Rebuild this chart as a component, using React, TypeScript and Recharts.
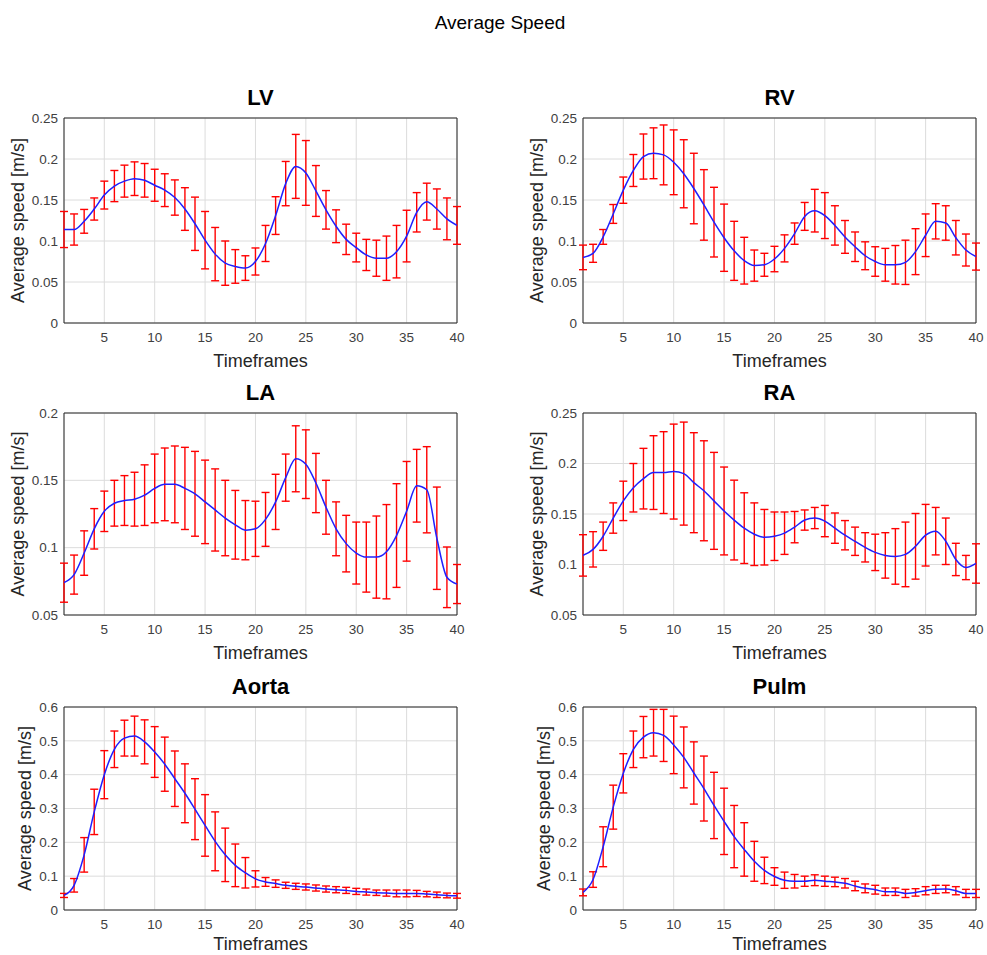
import { CartesianGrid, ErrorBar, Line, LineChart, ReferenceArea, XAxis, YAxis } from 'recharts';

const TIMEFRAMES = [
  1, 2, 3, 4, 5, 6, 7, 8, 9, 10, 11, 12, 13, 14, 15, 16, 17, 18, 19, 20,
  21, 22, 23, 24, 25, 26, 27, 28, 29, 30, 31, 32, 33, 34, 35, 36, 37, 38, 39, 40,
];
const X_TICKS = [5, 10, 15, 20, 25, 30, 35, 40];

const LV_MEAN = [0.114, 0.114, 0.124, 0.139, 0.156, 0.167, 0.173, 0.176, 0.174, 0.168, 0.162, 0.153, 0.139, 0.121, 0.101, 0.084, 0.073, 0.069, 0.067, 0.075, 0.097, 0.131, 0.17, 0.191, 0.183, 0.161, 0.138, 0.118, 0.102, 0.092, 0.083, 0.079, 0.079, 0.087, 0.106, 0.135, 0.148, 0.139, 0.127, 0.119];
const LV_SD = [0.022, 0.019, 0.0145, 0.0135, 0.017, 0.019, 0.0195, 0.0205, 0.0205, 0.0195, 0.02, 0.0215, 0.026, 0.0325, 0.035, 0.0325, 0.027, 0.0205, 0.015, 0.0165, 0.022, 0.023, 0.027, 0.039, 0.0395, 0.031, 0.0235, 0.02, 0.0185, 0.0175, 0.019, 0.022, 0.027, 0.032, 0.0315, 0.024, 0.0225, 0.0245, 0.0255, 0.023];

const RV_MEAN = [0.08, 0.085, 0.105, 0.133, 0.162, 0.186, 0.203, 0.207, 0.205, 0.196, 0.182, 0.164, 0.144, 0.123, 0.104, 0.088, 0.076, 0.07, 0.071, 0.078, 0.091, 0.109, 0.13, 0.137, 0.131, 0.119, 0.105, 0.093, 0.082, 0.075, 0.071, 0.071, 0.074, 0.087, 0.107, 0.124, 0.122, 0.104, 0.089, 0.081];
const RV_SD = [0.015, 0.011, 0.009, 0.0115, 0.016, 0.0195, 0.0275, 0.031, 0.0365, 0.0395, 0.0415, 0.043, 0.043, 0.0425, 0.041, 0.036, 0.0285, 0.019, 0.014, 0.0155, 0.0165, 0.013, 0.017, 0.026, 0.028, 0.024, 0.02, 0.018, 0.017, 0.018, 0.02, 0.0235, 0.027, 0.028, 0.026, 0.0215, 0.021, 0.021, 0.0195, 0.0165];

const LA_MEAN = [0.074, 0.08, 0.096, 0.114, 0.127, 0.133, 0.135, 0.136, 0.139, 0.144, 0.147, 0.147, 0.144, 0.14, 0.134, 0.128, 0.122, 0.117, 0.113, 0.114, 0.121, 0.134, 0.152, 0.166, 0.162, 0.148, 0.13, 0.114, 0.103, 0.096, 0.093, 0.093, 0.097, 0.109, 0.127, 0.146, 0.143, 0.107, 0.078, 0.073];
const LA_SD = [0.0145, 0.0145, 0.0165, 0.015, 0.015, 0.017, 0.0185, 0.02, 0.0225, 0.0255, 0.027, 0.0285, 0.0305, 0.0315, 0.031, 0.0305, 0.028, 0.0255, 0.022, 0.0205, 0.02, 0.0205, 0.0175, 0.0245, 0.0255, 0.022, 0.02, 0.02, 0.021, 0.023, 0.026, 0.0305, 0.035, 0.0385, 0.037, 0.027, 0.032, 0.038, 0.0225, 0.0145];

const RA_MEAN = [0.109, 0.115, 0.128, 0.146, 0.163, 0.176, 0.185, 0.191, 0.191, 0.192, 0.19, 0.181, 0.173, 0.163, 0.153, 0.144, 0.136, 0.13, 0.127, 0.128, 0.131, 0.137, 0.144, 0.146, 0.143, 0.136, 0.129, 0.123, 0.117, 0.112, 0.109, 0.108, 0.11, 0.118, 0.129, 0.133, 0.123, 0.105, 0.097, 0.101];
const RA_SD = [0.0205, 0.0175, 0.014, 0.015, 0.0195, 0.024, 0.03, 0.0365, 0.0405, 0.047, 0.051, 0.0495, 0.0495, 0.048, 0.0435, 0.0395, 0.035, 0.031, 0.0275, 0.024, 0.021, 0.0155, 0.01, 0.0105, 0.0155, 0.015, 0.0145, 0.014, 0.0145, 0.018, 0.0225, 0.0275, 0.032, 0.0325, 0.0305, 0.0235, 0.023, 0.016, 0.012, 0.0195];

const AORTA_MEAN = [0.043, 0.073, 0.163, 0.29, 0.4, 0.475, 0.508, 0.514, 0.497, 0.467, 0.431, 0.388, 0.345, 0.298, 0.25, 0.203, 0.163, 0.132, 0.11, 0.092, 0.083, 0.078, 0.073, 0.07, 0.068, 0.065, 0.062, 0.06, 0.058, 0.055, 0.053, 0.051, 0.05, 0.049, 0.049, 0.049, 0.047, 0.045, 0.043, 0.042];
const AORTA_SD = [0.006, 0.02, 0.051, 0.067, 0.071, 0.054, 0.053, 0.059, 0.065, 0.075, 0.08, 0.082, 0.087, 0.09, 0.091, 0.087, 0.079, 0.063, 0.045, 0.024, 0.013, 0.011, 0.009, 0.009, 0.009, 0.009, 0.009, 0.009, 0.009, 0.009, 0.009, 0.008, 0.009, 0.01, 0.01, 0.009, 0.008, 0.008, 0.007, 0.007];

const PULM_MEAN = [0.052, 0.09, 0.187, 0.304, 0.404, 0.475, 0.511, 0.524, 0.516, 0.488, 0.451, 0.405, 0.359, 0.309, 0.262, 0.217, 0.179, 0.144, 0.117, 0.099, 0.088, 0.085, 0.085, 0.088, 0.085, 0.083, 0.079, 0.071, 0.064, 0.06, 0.054, 0.054, 0.049, 0.052, 0.057, 0.061, 0.062, 0.057, 0.049, 0.049];
const PULM_SD = [0.01, 0.023, 0.059, 0.065, 0.058, 0.054, 0.061, 0.069, 0.077, 0.085, 0.09, 0.092, 0.096, 0.098, 0.098, 0.092, 0.079, 0.059, 0.039, 0.026, 0.024, 0.02, 0.015, 0.016, 0.015, 0.014, 0.014, 0.014, 0.013, 0.013, 0.011, 0.011, 0.012, 0.011, 0.012, 0.012, 0.011, 0.012, 0.012, 0.012];

const TICKS_025 = [0, 0.05, 0.1, 0.15, 0.2, 0.25];
const TICKS_LA = [0.05, 0.1, 0.15, 0.2];
const TICKS_RA = [0.05, 0.1, 0.15, 0.2, 0.25];
const TICKS_06 = [0, 0.1, 0.2, 0.3, 0.4, 0.5, 0.6];

const FONT = '"Liberation Sans", Arial, Helvetica, sans-serif';
const AXIS_COLOR = '#262626';

const XTitle = ({ viewBox, dy }: any) => {
  if (!viewBox) return null;
  const { x, y, width } = viewBox;
  return (
    <text x={x + width / 2} y={y + dy} textAnchor="middle" fontSize={18} fill={AXIS_COLOR} fontFamily={FONT}>
      Timeframes
    </text>
  );
};

const YTitle = ({ viewBox, at }: any) => {
  if (!viewBox) return null;
  const cx = viewBox.x + at;
  const cy = viewBox.y + viewBox.height / 2;
  return (
    <text
      x={cx}
      y={cy}
      transform={`rotate(-90 ${cx} ${cy})`}
      textAnchor="middle"
      dominantBaseline="central"
      fontSize={18}
      fill={AXIS_COLOR}
      fontFamily={FONT}
    >
      Average speed [m/s]
    </text>
  );
};

interface PanelProps {
  title: string;
  mean: number[];
  sd: number[];
  yDomain: [number, number];
  yTicks: number[];
  left: number;
  top: number;
  plotH: number;
  labelAt: number;
  xAxisH: number;
  xLabelDy: number;
}

const Panel = ({ title, mean, sd, yDomain, yTicks, left, top, plotH, labelAt, xAxisH, xLabelDy }: PanelProps) => {
  const data = TIMEFRAMES.map((t, i) => ({ t, mean: mean[i], sd: sd[i] }));
  return (
    <div style={{ position: 'absolute', left, top }}>
      <div
        style={{
          position: 'absolute',
          left: 64,
          width: 393,
          top: -21,
          lineHeight: '22px',
          fontSize: 22,
          fontWeight: 'bold',
          textAlign: 'center',
          color: '#000',
        }}
      >
        {title}
      </div>
      <LineChart width={467} height={plotH + 10 + xAxisH} data={data} margin={{ top: 10, right: 10, left: 0, bottom: 0 }}>
        <CartesianGrid stroke="#dcdcdc" />
        <XAxis
          dataKey="t"
          type="number"
          domain={[1, 40]}
          ticks={X_TICKS}
          allowDataOverflow
          axisLine={false}
          tickLine={false}
          tickMargin={3}
          height={xAxisH}
          tick={{ fontSize: 13.5, fill: '#404040', fontFamily: FONT }}
          label={<XTitle dy={xLabelDy} />}
        />
        <YAxis
          type="number"
          domain={yDomain}
          ticks={yTicks}
          allowDataOverflow
          axisLine={false}
          tickLine={false}
          tickMargin={0}
          width={64}
          tick={{ fontSize: 13.5, fill: '#404040', fontFamily: FONT }}
          label={<YTitle at={labelAt} />}
        />
        <ReferenceArea x1={1} x2={40} y1={yDomain[0]} y2={yDomain[1]} fill="none" stroke={AXIS_COLOR} strokeWidth={1} />
        <Line dataKey="mean" stroke="none" dot={false} activeDot={false} isAnimationActive={false}>
          <ErrorBar dataKey="sd" direction="y" width={4} stroke="#ff0000" strokeWidth={1.4} isAnimationActive={false} />
        </Line>
        <Line
          dataKey="mean"
          type="monotone"
          stroke="#1f1fff"
          strokeWidth={1.5}
          dot={false}
          activeDot={false}
          isAnimationActive={false}
        />
      </LineChart>
    </div>
  );
};

export default function App() {
  return (
    <div style={{ position: 'absolute', left: 0, top: 0, width: 987, height: 955, overflow: 'hidden', background: '#fff', fontFamily: FONT }}>
      <div style={{ position: 'absolute', left: 0, width: 1000, top: 13, lineHeight: '19px', fontSize: 19, textAlign: 'center', color: '#000' }}>
        Average Speed
      </div>
      <Panel title="LV" mean={LV_MEAN} sd={LV_SD} yDomain={[0, 0.25]} yTicks={TICKS_025} left={0} top={108} plotH={205} labelAt={18} xAxisH={52} xLabelDy={44} />
      <Panel title="RV" mean={RV_MEAN} sd={RV_SD} yDomain={[0, 0.25]} yTicks={TICKS_025} left={519} top={108} plotH={205} labelAt={18} xAxisH={52} xLabelDy={44} />
      <Panel title="LA" mean={LA_MEAN} sd={LA_SD} yDomain={[0.05, 0.2]} yTicks={TICKS_LA} left={0} top={403} plotH={202} labelAt={18} xAxisH={52} xLabelDy={44} />
      <Panel title="RA" mean={RA_MEAN} sd={RA_SD} yDomain={[0.05, 0.25]} yTicks={TICKS_RA} left={519} top={403} plotH={202} labelAt={18} xAxisH={52} xLabelDy={44} />
      <Panel title="Aorta" mean={AORTA_MEAN} sd={AORTA_SD} yDomain={[0, 0.6]} yTicks={TICKS_06} left={0} top={697} plotH={203} labelAt={25} xAxisH={45} xLabelDy={40} />
      <Panel title="Pulm" mean={PULM_MEAN} sd={PULM_SD} yDomain={[0, 0.6]} yTicks={TICKS_06} left={519} top={697} plotH={203} labelAt={25} xAxisH={45} xLabelDy={40} />
    </div>
  );
}
